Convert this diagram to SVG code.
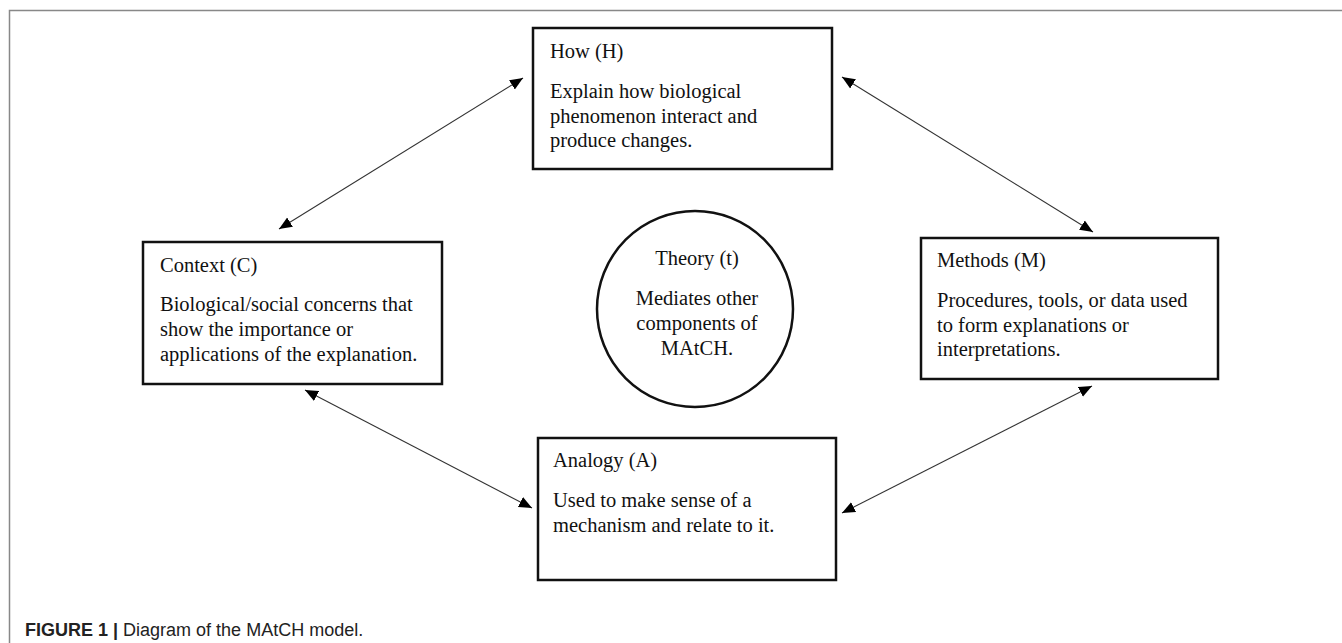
<svg xmlns="http://www.w3.org/2000/svg" width="1342" height="643" viewBox="0 0 1342 643">
  <style>
    .box { fill: #fff; stroke: #111; stroke-width: 2.5; }
    .t { font-family: "Liberation Serif", "Times New Roman", serif; font-size: 20.5px; fill: #111; }
    .c { text-anchor: middle; }
    .conn { stroke: #333; stroke-width: 1.1; fill: none; marker-start: url(#ah); marker-end: url(#ah); }
    .cap { font-family: "Liberation Sans", Arial, sans-serif; font-size: 18px; fill: #222; }
  </style>
  <defs>
    <marker id="ah" markerUnits="userSpaceOnUse" markerWidth="14" markerHeight="12" refX="13" refY="6" orient="auto-start-reverse" viewBox="0 0 14 12">
      <path d="M0,0.5 L13,6 L0,11.5 z" fill="#000"/>
    </marker>
  </defs>
  <rect width="1342" height="643" fill="#fff"/>
  <path d="M9.5,643 V10.5 H1342" fill="none" stroke="#888" stroke-width="1.5"/>

  <g id="connectors">
    <line class="conn" x1="279" y1="229" x2="523" y2="78"/>
    <line class="conn" x1="842" y1="77" x2="1093" y2="232"/>
    <line class="conn" x1="305" y1="390" x2="532" y2="508"/>
    <line class="conn" x1="1092" y1="386" x2="842" y2="513"/>
  </g>

  <g id="how">
    <rect class="box" x="533" y="28" width="299" height="141"/>
    <text class="t" x="550" y="58">How (H)</text>
    <text class="t" x="550" y="98">Explain how biological</text>
    <text class="t" x="550" y="122.5">phenomenon interact and</text>
    <text class="t" x="550" y="147">produce changes.</text>
  </g>

  <g id="context">
    <rect class="box" x="143" y="242" width="299" height="142"/>
    <text class="t" x="160" y="272">Context (C)</text>
    <text class="t" x="160" y="311">Biological/social concerns that</text>
    <text class="t" x="160" y="336">show the importance or</text>
    <text class="t" x="160" y="361">applications of the explanation.</text>
  </g>

  <g id="theory">
    <circle cx="695" cy="309" r="98" fill="#fff" stroke="#111" stroke-width="2.5"/>
    <text class="t c" x="697" y="265">Theory (t)</text>
    <text class="t c" x="697" y="305">Mediates other</text>
    <text class="t c" x="697" y="330">components of</text>
    <text class="t c" x="697" y="355">MAtCH.</text>
  </g>

  <g id="methods">
    <rect class="box" x="921" y="238" width="297" height="141"/>
    <text class="t" x="937" y="267">Methods (M)</text>
    <text class="t" x="937" y="307">Procedures, tools, or data used</text>
    <text class="t" x="937" y="331.5">to form explanations or</text>
    <text class="t" x="937" y="356">interpretations.</text>
  </g>

  <g id="analogy">
    <rect class="box" x="538" y="438" width="298" height="142"/>
    <text class="t" x="553" y="467">Analogy (A)</text>
    <text class="t" x="553" y="507">Used to make sense of a</text>
    <text class="t" x="553" y="532">mechanism and relate to it.</text>
  </g>

  <g id="caption">
    <text class="cap" x="25" y="636"><tspan font-weight="bold">FIGURE 1</tspan> <tspan font-weight="bold">|</tspan> Diagram of the MAtCH model.</text>
  </g>
</svg>
